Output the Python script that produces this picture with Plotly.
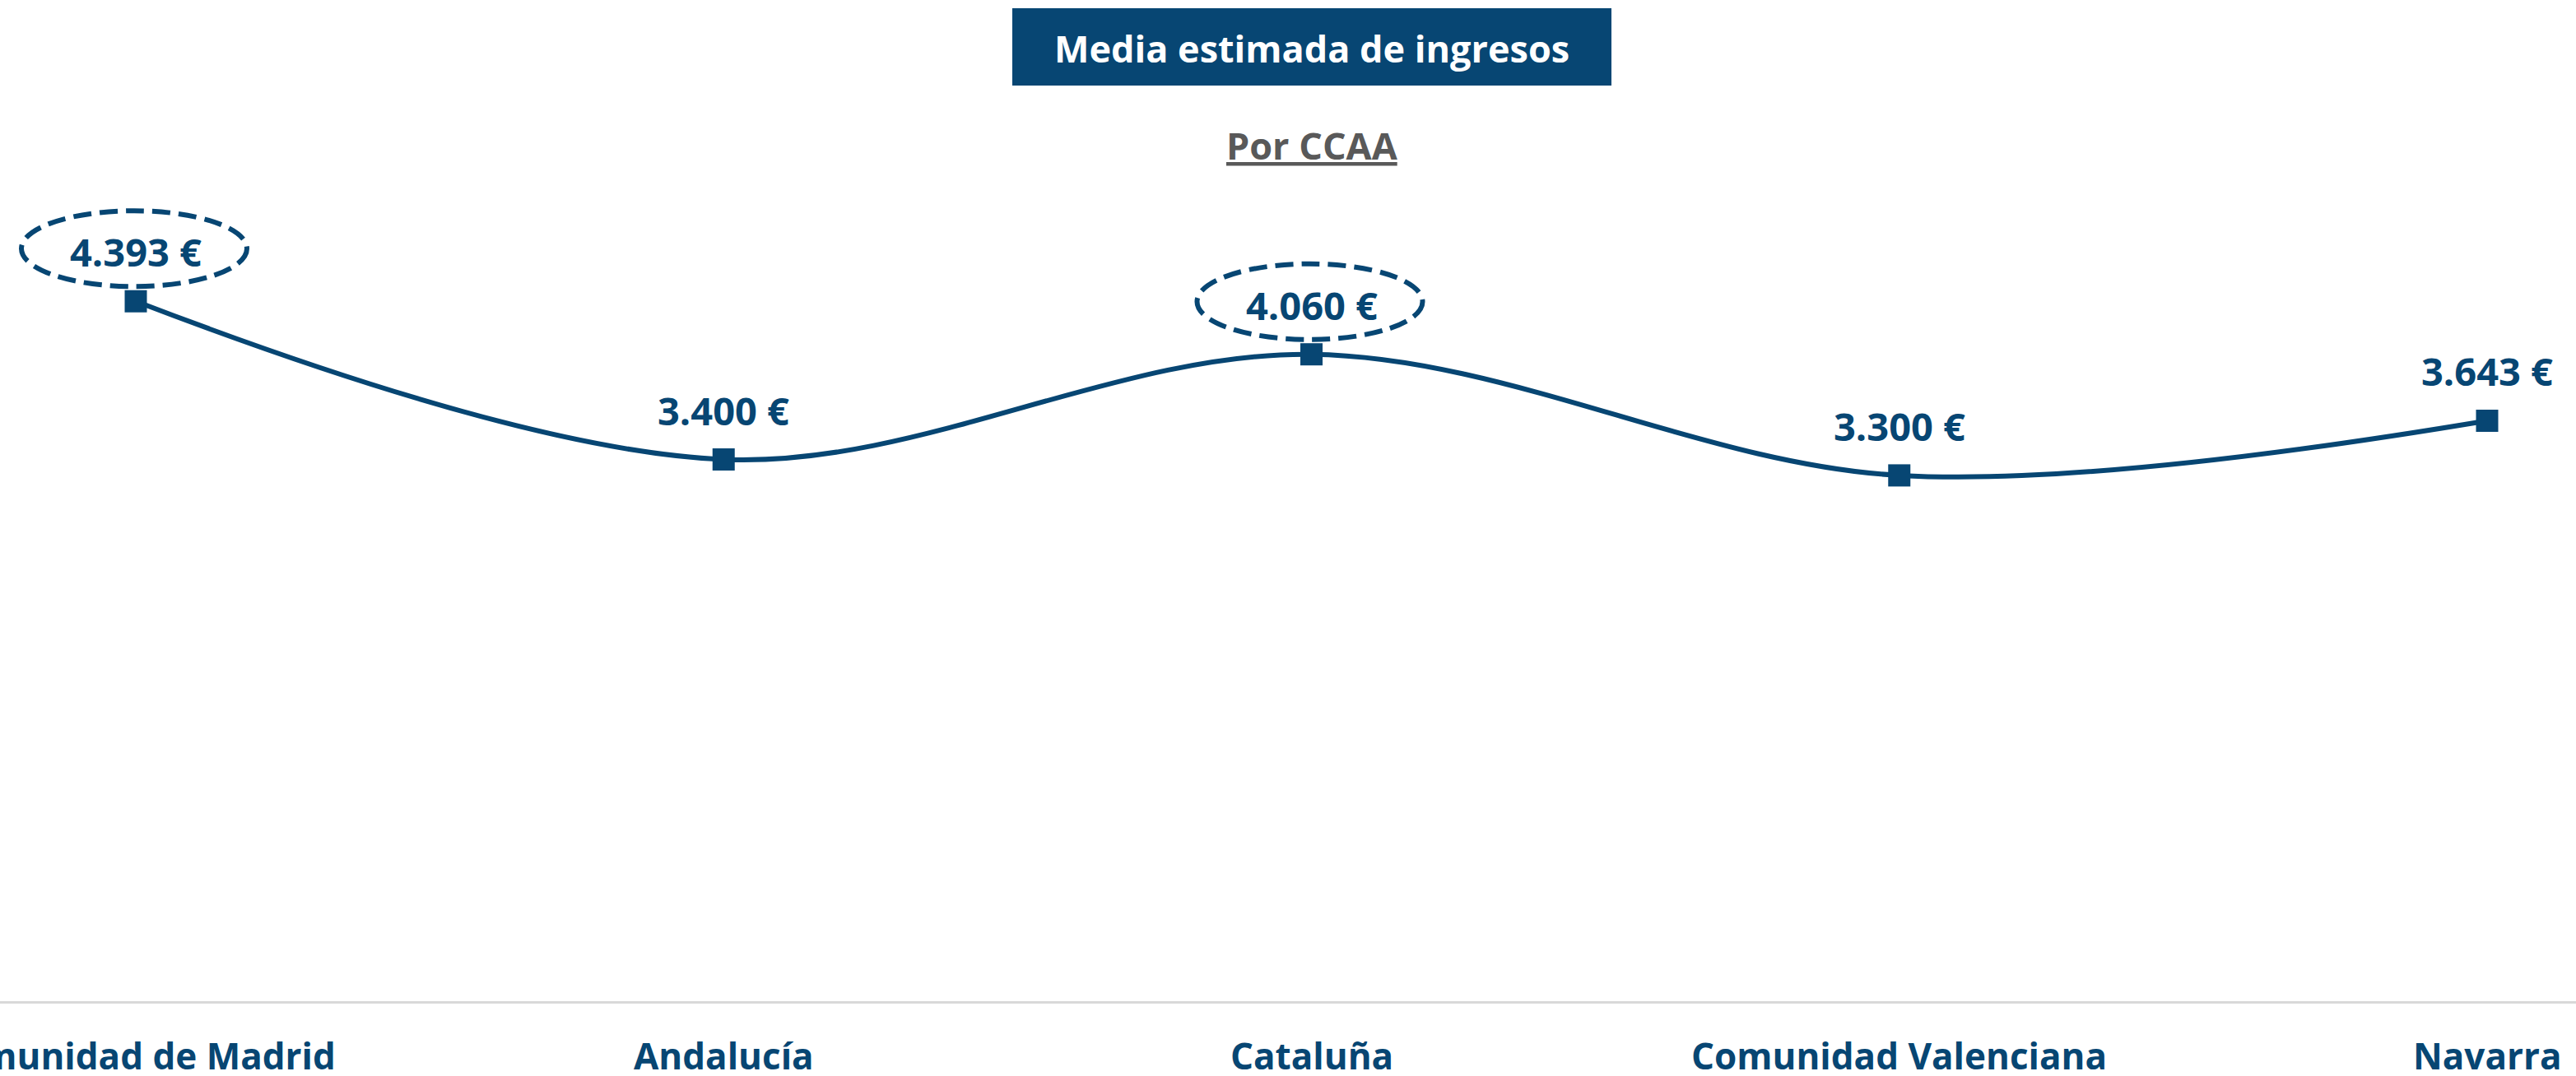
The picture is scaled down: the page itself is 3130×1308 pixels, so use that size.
import plotly.graph_objects as go

# ---- data ----
categories = ["Comunidad de Madrid", "Andalucía", "Cataluña", "Comunidad Valenciana", "Navarra"]
values = [4393, 3400, 4060, 3300, 3643]
highlighted = ["Comunidad de Madrid", "Cataluña"]
title_text = "Media estimada de ingresos"
subtitle_text = "Por CCAA"

# ---- style ----
BLUE = "#074673"
GREY_TXT = "#595959"
FONT = "Open Sans"
W, H = 3130, 1308
M_T, M_B = 55, 91
PLOT_H = H - M_T - M_B


def py(pixel_from_top):
    """Convert a pixel row (from top of page) to paper y."""
    return (H - M_B - pixel_from_top) / PLOT_H


def fmt(v):
    return f"{v:,}".replace(",", ".") + " €"


xs = list(range(len(categories)))

fig = go.Figure()
fig.add_trace(go.Scatter(
    x=xs, y=values,
    mode="lines+markers",
    line=dict(color=BLUE, width=6, shape="spline", smoothing=1.0),
    marker=dict(symbol="square", size=27, color=BLUE),
    hoverinfo="skip",
    showlegend=False,
))

# value labels
for i, v in zip(xs, values):
    fig.add_annotation(
        x=i, y=v, xref="x", yref="y", text=f"<b>{fmt(v)}</b>",
        showarrow=False, yshift=60, xanchor="center", yanchor="middle",
        font=dict(family=FONT, size=47, color=BLUE),
    )

# category labels (drawn as annotations so the cut-off first one still shows)
for i, c in zip(xs, categories):
    fig.add_annotation(
        x=i, y=0, xref="x", yref="y", text=f"<b>{c}</b>",
        showarrow=False, yshift=-66, xanchor="center", yanchor="middle",
        font=dict(family=FONT, size=44, color=BLUE),
    )

# dashed ellipses around highlighted labels
for i, (c, v) in enumerate(zip(categories, values)):
    if c in highlighted:
        fig.add_shape(
            type="circle", xref="x", yref="y",
            xsizemode="pixel", ysizemode="pixel",
            xanchor=i, yanchor=v,
            x0=-139, x1=135, y0=18, y1=110,
            line=dict(color=BLUE, width=6, dash="22px,10px"),
            fillcolor="rgba(0,0,0,0)",
        )

# title box
cx = 1594 / W
fig.add_shape(type="rect", xref="paper", yref="paper",
              x0=1230 / W, x1=1958 / W, y0=py(104), y1=py(10),
              fillcolor=BLUE, line=dict(width=0), layer="below")
fig.add_annotation(xref="paper", yref="paper", x=cx, y=py(58),
                   text=f"<b>{title_text}</b>", showarrow=False,
                   xanchor="center", yanchor="middle",
                   font=dict(family=FONT, size=45, color="white"))
fig.add_annotation(xref="paper", yref="paper", x=cx, y=py(177),
                   text=f"<b><u>{subtitle_text}</u></b>", showarrow=False,
                   xanchor="center", yanchor="middle",
                   font=dict(family=FONT, size=45, color=GREY_TXT))

fig.update_layout(
    width=W, height=H,
    margin=dict(l=0, r=0, t=M_T, b=M_B, pad=0),
    paper_bgcolor="white", plot_bgcolor="white",
    xaxis=dict(
        range=[-165 / 714.25, (W - 165) / 714.25],
        showticklabels=False,
        showgrid=False, zeroline=False,
        showline=True, linecolor="#D9D9D9", linewidth=3,
        ticks="",
        automargin=False,
    ),
    yaxis=dict(range=[0, 6000], visible=False, showgrid=False, zeroline=False),
)

fig.write_html("out.html", config={"displayModeBar": False},
               post_script="document.body.style.margin='0';")
